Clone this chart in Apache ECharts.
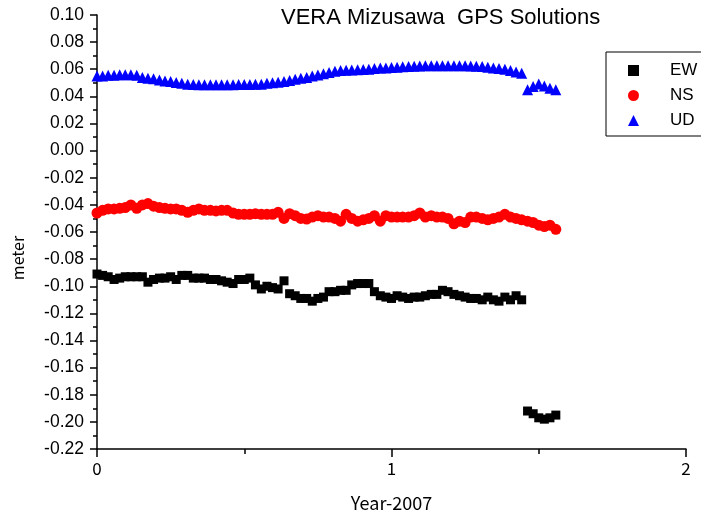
<!DOCTYPE html>
<html>
<head>
<meta charset="utf-8">
<script src="https://cdn.jsdelivr.net/npm/echarts@6/dist/echarts.min.js"></script>
<style>
  html, body { margin: 0; padding: 0; background: #fff; }
  #chart { width: 701px; height: 521px; }
</style>
</head>
<body>
<div id="chart"></div>
<script>
// Weekly GPS epochs, in years since 2007.0
const epochs = [
  0.000, 0.019, 0.038, 0.058, 0.077, 0.096, 0.115, 0.135, 0.154, 0.173,
  0.192, 0.212, 0.231, 0.250, 0.269, 0.288, 0.308, 0.327, 0.346, 0.365,
  0.385, 0.404, 0.423, 0.442, 0.462, 0.481, 0.500, 0.519, 0.538, 0.558,
  0.577, 0.596, 0.615, 0.635, 0.654, 0.673, 0.692, 0.712, 0.731, 0.750,
  0.769, 0.788, 0.808, 0.827, 0.846, 0.865, 0.885, 0.904, 0.923, 0.942,
  0.962, 0.981, 1.000, 1.019, 1.038, 1.058, 1.077, 1.096, 1.115, 1.135,
  1.154, 1.173, 1.192, 1.212, 1.231, 1.250, 1.269, 1.288, 1.308, 1.327,
  1.346, 1.365, 1.385, 1.404, 1.423, 1.442, 1.462, 1.481, 1.500, 1.519,
  1.538, 1.558
];

// East-west component (m)
const ewValues = [
  -0.091, -0.092, -0.093, -0.095, -0.094, -0.093, -0.093, -0.093, -0.093, -0.097,
  -0.095, -0.094, -0.094, -0.093, -0.095, -0.092, -0.092, -0.094, -0.094, -0.094,
  -0.095, -0.095, -0.096, -0.097, -0.098, -0.095, -0.095, -0.094, -0.099, -0.102,
  -0.100, -0.101, -0.102, -0.096, -0.1055, -0.107, -0.109, -0.109, -0.111, -0.109,
  -0.108, -0.104, -0.104, -0.103, -0.103, -0.099, -0.098, -0.098, -0.098, -0.104,
  -0.107, -0.108, -0.109, -0.107, -0.108, -0.109, -0.108, -0.108, -0.107, -0.106,
  -0.106, -0.103, -0.104, -0.106, -0.107, -0.108, -0.109, -0.109, -0.110, -0.108,
  -0.110, -0.111, -0.108, -0.110, -0.107, -0.110,
  -0.192, -0.194, -0.197, -0.198, -0.197, -0.195
];

// North-south component (m)
const nsValues = [
  -0.046, -0.044, -0.043, -0.043, -0.0425, -0.042, -0.040, -0.0425, -0.040, -0.039,
  -0.041, -0.042, -0.0425, -0.043, -0.043, -0.044, -0.0455, -0.044, -0.043, -0.044,
  -0.044, -0.0445, -0.044, -0.044, -0.046, -0.047, -0.047, -0.047, -0.0465, -0.047,
  -0.047, -0.047, -0.0455, -0.050, -0.0465, -0.048, -0.050, -0.0505, -0.049, -0.048,
  -0.049, -0.049, -0.050, -0.052, -0.047, -0.050, -0.052, -0.051, -0.050, -0.048,
  -0.052, -0.048, -0.049, -0.049, -0.049, -0.049, -0.048, -0.046, -0.049, -0.048,
  -0.049, -0.049, -0.050, -0.054, -0.052, -0.053, -0.049, -0.049, -0.050, -0.051,
  -0.050, -0.049, -0.047, -0.049, -0.050, -0.051, -0.052, -0.053, -0.055, -0.056,
  -0.055, -0.058
];

// Up-down component (m)
const udValues = [
  0.055, 0.055, 0.0555, 0.0555, 0.056, 0.056, 0.056, 0.0555, 0.054, 0.0534,
  0.053, 0.0521, 0.0514, 0.051, 0.0502, 0.0497, 0.049, 0.0488, 0.0486, 0.0485,
  0.0485, 0.0485, 0.0485, 0.0485, 0.0486, 0.0487, 0.0488, 0.0488, 0.0489, 0.049,
  0.0497, 0.050, 0.0504, 0.051, 0.0517, 0.0526, 0.0534, 0.054, 0.055, 0.0558,
  0.0566, 0.0576, 0.0585, 0.059, 0.0592, 0.0594, 0.0596, 0.0598, 0.060, 0.0605,
  0.061, 0.061, 0.0613, 0.0615, 0.0618, 0.062, 0.0622, 0.0624, 0.0625, 0.0625,
  0.0625, 0.0625, 0.0625, 0.0625, 0.0625, 0.0625, 0.0624, 0.0622, 0.062, 0.0615,
  0.061, 0.0605, 0.060, 0.059, 0.058, 0.057,
  0.0448, 0.0472, 0.0492, 0.0477, 0.046, 0.0448
];

const seriesNames = ['EW', 'NS', 'UD'];
const xTicks = { min: 0, max: 2, step: 1 };
const yTicks = { min: -0.22, max: 0.10, step: 0.02 };

function pairs(values) {
  return values.map((v, i) => [epochs[i], v]);
}

const latin = '"Liberation Sans", Arial, sans-serif';
const gothic = '"Noto Sans CJK JP", sans-serif';

const chart = echarts.init(document.getElementById('chart'), null, { renderer: 'canvas' });

chart.setOption({
  backgroundColor: '#ffffff',
  animation: false,
  title: {
    text: 'VERA Mizusawa  GPS Solutions',
    left: 281,
    top: 7,
    padding: 0,
    textStyle: { fontFamily: latin, fontSize: 22, fontWeight: 'normal', color: '#000' }
  },
  legend: {
    data: seriesNames,
    orient: 'vertical',
    left: 606,
    top: 52,
    padding: [10, 40, 7, 22],
    itemGap: 8,
    itemWidth: 11,
    itemHeight: 11,
    borderColor: '#000',
    borderWidth: 1,
    borderRadius: 0,
    textStyle: { fontFamily: latin, fontSize: 17, color: '#000', padding: [0, 0, 0, 26] }
  },
  graphic: [{
    type: 'text',
    x: 18,
    y: 258,
    rotation: Math.PI / 2,
    style: {
      text: 'meter',
      fontFamily: gothic,
      fontSize: 16,
      fill: '#000',
      align: 'center',
      verticalAlign: 'middle'
    }
  }],
  grid: { left: 97, right: 15, top: 15, bottom: 72, containLabel: false },
  xAxis: {
    type: 'value',
    min: xTicks.min,
    max: xTicks.max,
    interval: xTicks.step,
    name: 'Year-2007',
    nameLocation: 'middle',
    nameGap: 45,
    nameTextStyle: { fontFamily: gothic, fontSize: 18, color: '#000' },
    axisLine: { show: true, onZero: false, lineStyle: { color: '#000', width: 1.5 } },
    axisTick: { show: true, length: 8, lineStyle: { color: '#000', width: 1.5 } },
    minorTick: { show: true, splitNumber: 2, length: 5, lineStyle: { color: '#000', width: 1.5 } },
    splitLine: { show: false },
    axisLabel: { fontFamily: gothic, fontSize: 17, color: '#000', margin: 11 }
  },
  yAxis: {
    type: 'value',
    min: yTicks.min,
    max: yTicks.max,
    interval: yTicks.step,
    axisLine: { show: true, onZero: false, lineStyle: { color: '#000', width: 1.5 } },
    axisTick: { show: true, length: 7, lineStyle: { color: '#000', width: 1.5 } },
    minorTick: { show: true, splitNumber: 2, length: 4, lineStyle: { color: '#000', width: 1.5 } },
    splitLine: { show: false },
    axisLabel: {
      fontFamily: latin,
      fontSize: 17.5,
      color: '#000',
      margin: 13,
      formatter: v => v.toFixed(2)
    }
  },
  series: [
    {
      name: 'EW', type: 'scatter', symbol: 'rect', symbolSize: 9,
      itemStyle: { color: '#000000', opacity: 1 },
      data: pairs(ewValues)
    },
    {
      name: 'NS', type: 'scatter', symbol: 'circle', symbolSize: 11,
      itemStyle: { color: '#ff0000', opacity: 1 },
      data: pairs(nsValues)
    },
    {
      name: 'UD', type: 'scatter', symbol: 'triangle', symbolSize: 11,
      itemStyle: { color: '#0000ff', opacity: 1 },
      data: pairs(udValues)
    }
  ]
});
</script>
</body>
</html>
